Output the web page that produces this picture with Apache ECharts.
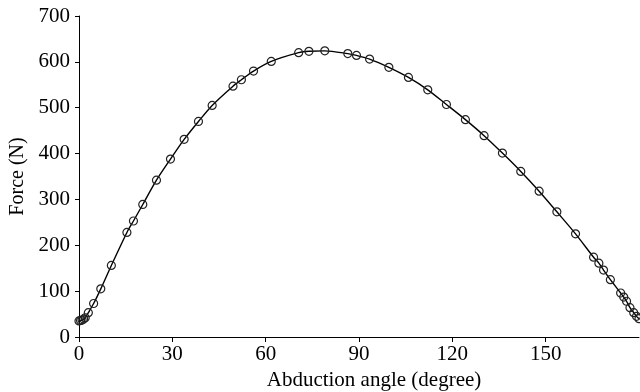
<!DOCTYPE html>
<html>
<head>
<meta charset="utf-8">
<script src="https://cdn.jsdelivr.net/npm/echarts@6/dist/echarts.min.js"></script>
<style>html,body{margin:0;padding:0;background:#fff;}#c{width:640px;height:392px;}</style>
</head>
<body>
<div id="c"></div>
<script>
var angles = [0,0.5,1,1.5,2,3,4.7,7,10.4,15.4,17.5,20.5,24.9,29.4,33.8,38.4,42.8,49.5,52.2,56.1,61.8,70.6,73.9,79.0,86.4,89.2,93.4,99.6,105.9,112.1,118.1,124.2,130.2,136.1,142.0,147.9,153.6,159.6,165.4,167.1,168.6,170.8,174.1,175.1,176.0,177.1,178.3,179.2,180];
var forces = [35,36,37,39,42,53,73,105,156,228,253,289,342,388,431,470,505,547,561,580,601,620,623,624,618,614,606,588,566,539,507,474,439,401,361,318,273,225,174,161,146,125,96,87,78,64,53,45,40];
var xTicks = [0,30,60,90,120,150,180];
var yTicks = [0,100,200,300,400,500,600,700];

var pts = angles.map(function(a,i){return [a,forces[i]];});
var font = '"Liberation Serif", "Times New Roman", serif';
var chart = echarts.init(document.getElementById('c'));
chart.setOption({
  animation:false,
  grid:{left:79,right:1,top:16,bottom:55,containLabel:false,outerBoundsMode:'none'},
  xAxis:{type:'value',min:0,max:180,interval:30,
    name:'Abduction angle (degree)',nameLocation:'middle',nameGap:30,
    nameTextStyle:{fontFamily:font,fontSize:21,color:'#000',padding:[0,0,0,30]},
    axisLine:{show:true,lineStyle:{color:'#000',width:1}},
    axisTick:{show:true,length:5,lineStyle:{color:'#000'}},
    axisLabel:{fontFamily:font,fontSize:21,color:'#000',margin:7,showMaxLabel:false},
    splitLine:{show:false}},
  yAxis:{type:'value',min:0,max:700,interval:100,
    name:'Force (N)',nameLocation:'middle',nameGap:50,nameRotate:90,
    nameTextStyle:{fontFamily:font,fontSize:20,color:'#000'},
    axisLine:{show:true,lineStyle:{color:'#000',width:1}},
    axisTick:{show:true,length:4,lineStyle:{color:'#000'}},
    axisLabel:{fontFamily:font,fontSize:21,color:'#000',margin:9},
    splitLine:{show:false}},
  series:[{type:'line',data:pts,smooth:0.3,
    symbol:'circle',symbolSize:8,showSymbol:true,clip:false,
    lineStyle:{color:'#000',width:1.4},
    itemStyle:{color:'rgba(255,255,255,0)',borderColor:'#222',borderWidth:1.2}}]
});
</script>
</body>
</html>
